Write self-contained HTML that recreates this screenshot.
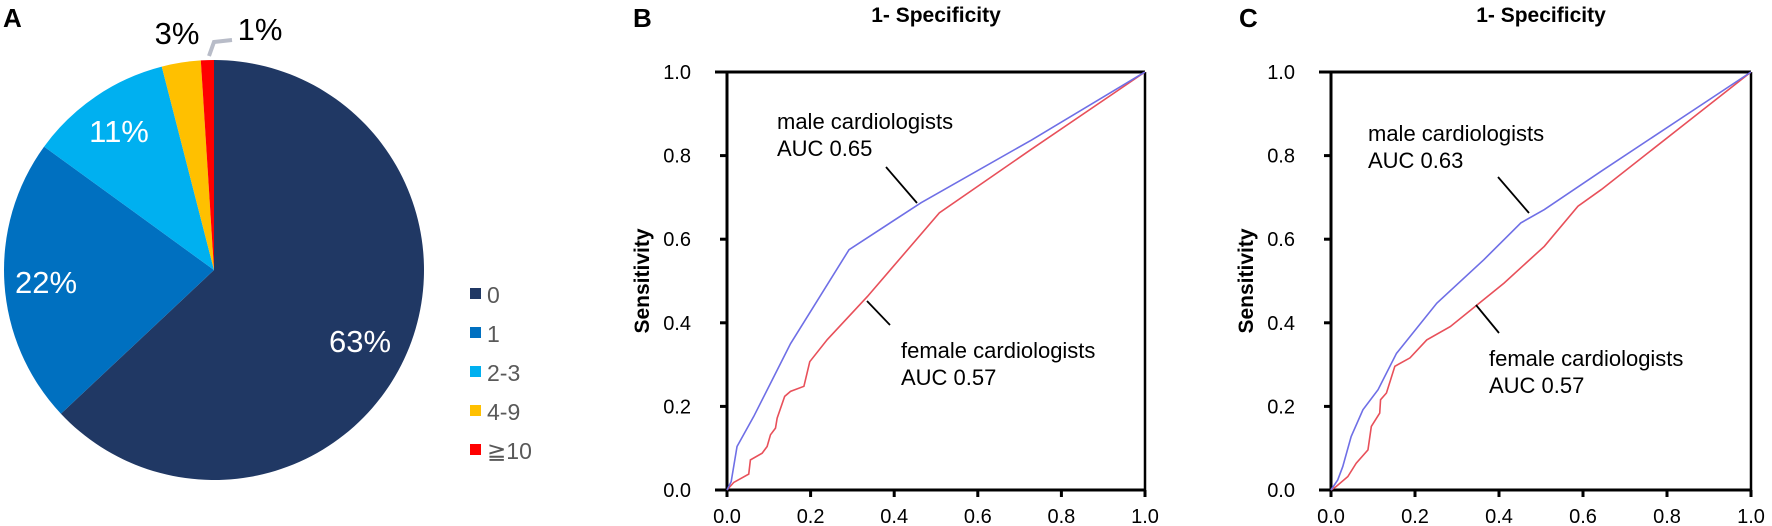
<!DOCTYPE html>
<html><head><meta charset="utf-8"><style>
html,body{margin:0;padding:0;background:#fff;}
svg{display:block;font-family:"Liberation Sans",Arial,sans-serif;}
</style></head><body>
<svg id="fig" width="1772" height="526" viewBox="0 0 1772 526"></svg>
<script>
// ---- Panel A data ----
const pieCats = ["0","1","2-3","4-9","≧10"];
const pieVals = [63,22,11,3,1];
const pieLabels = ["63%","22%","11%","3%","1%"];
const pieColors = ["#203864","#0070c0","#00b0f0","#ffc000","#ff0000"];
// ---- Panel B data ----
const bMaleX = [0,0.01,0.024,0.064,0.152,0.292,0.464,0.728,1];
const bMaleY = [0,0.02,0.104,0.176,0.35,0.575,0.687,0.837,1];
const bFemX = [0,0.016,0.052,0.056,0.084,0.096,0.104,0.116,0.12,0.138,0.152,0.184,0.198,0.24,0.336,0.508,0.728,1];
const bFemY = [0,0.018,0.038,0.072,0.088,0.104,0.132,0.148,0.172,0.224,0.236,0.248,0.307,0.36,0.463,0.663,0.815,1];
// ---- Panel C data ----
const cMaleX = [0,0.016,0.028,0.048,0.076,0.112,0.156,0.252,0.364,0.452,0.508,0.644,1];
const cMaleY = [0,0.024,0.056,0.128,0.192,0.24,0.327,0.447,0.551,0.639,0.671,0.763,1];
const cFemX = [0,0.012,0.04,0.06,0.088,0.096,0.116,0.118,0.132,0.152,0.188,0.228,0.284,0.348,0.412,0.508,0.588,0.644,1];
const cFemY = [0,0.008,0.032,0.064,0.096,0.152,0.184,0.216,0.232,0.296,0.316,0.359,0.391,0.443,0.495,0.583,0.679,0.719,1];
const ticks = [0,0.2,0.4,0.6,0.8,1.0];
const tickLabels = ["0.0","0.2","0.4","0.6","0.8","1.0"];

const NS="http://www.w3.org/2000/svg";
const svg=document.getElementById('fig');
function mk(tag,attrs,parent,text){const e=document.createElementNS(NS,tag);for(const k in attrs)e.setAttribute(k,attrs[k]);if(text!==undefined)e.textContent=text;(parent||svg).appendChild(e);return e;}

// Panel A
const gA=mk('g',{});


let t=mk('text',{x:3,y:27,'font-size':26,'font-weight':'bold'},gA,'A');


const cx=214,cy=270,r=210;
const total=pieVals.reduce((a,b)=>a+b,0);
let ang=0;
const labelPos=[[360,352],[46,293],[119,142],[177,44],[260,40]];
pieVals.forEach((v,i)=>{
  const a0=ang/total*2*Math.PI, a1=(ang+v)/total*2*Math.PI; ang+=v;
  const x0=cx+r*Math.sin(a0),y0=cy-r*Math.cos(a0),x1=cx+r*Math.sin(a1),y1=cy-r*Math.cos(a1);
  const p=mk('path',{d:`M${cx},${cy}L${x0},${y0}A${r},${r} 0 ${a1-a0>Math.PI?1:0} 1 ${x1},${y1}Z`,fill:pieColors[i]},gA);
  
  
  const lp=labelPos[i];
  const lt=mk('text',{x:lp[0],y:lp[1],'font-size':31,'text-anchor':'middle',fill:i<3?'#fff':'#000'},gA,pieLabels[i]);
  
  
});
let ll=mk('polyline',{points:'209,56 214,42 232,40',fill:'none',stroke:'#b8bcc8','stroke-width':4},gA);


pieCats.forEach((c,i)=>{
  const y=294+i*39;
  const s=mk('rect',{x:470,y:y-6,width:11,height:11,fill:pieColors[i]},gA);
  
  
  const tt=mk('text',{x:487,y:y+9,'font-size':23,fill:'#595959'},gA,c);
  
  
});

function roc(opts){
  const g=mk('g',{});
  
  
  const X0=opts.x0,X1=opts.x1,Y0=490,Y1=72;
  const sx=v=>X0+v*(X1-X0), sy=v=>Y0-v*(Y0-Y1);
  let e=mk('text',{x:opts.letterX,y:27,'font-size':26,'font-weight':'bold'},g,opts.letter);
  
  
  e=mk('text',{x:(X0+X1)/2,y:22,'font-size':21,'font-weight':'bold','text-anchor':'middle'},g,'1- Specificity');
  
  
  e=mk('text',{x:0,y:0,'font-size':21,'font-weight':'bold','text-anchor':'middle',transform:`translate(${X0-78},${(Y0+Y1)/2}) rotate(-90)`},g,'Sensitivity');
  
  
  e=mk('line',{x1:X0-12,y1:Y1,x2:X1,y2:Y1,stroke:'#000','stroke-width':3},g);
  
  
  e=mk('line',{x1:X1,y1:Y1,x2:X1,y2:Y0+7,stroke:'#000','stroke-width':2.5},g);
  
  
  e=mk('line',{x1:X0-12,y1:Y0,x2:X1,y2:Y0,stroke:'#000','stroke-width':3},g);
  
  
  e=mk('line',{x1:X0,y1:Y1,x2:X0,y2:Y0+7,stroke:'#000','stroke-width':3},g);
  
  
  ticks.forEach((v,i)=>{
    let k=mk('line',{x1:X0-7,y1:sy(v),x2:X0,y2:sy(v),stroke:'#000','stroke-width':3},g);
    
    
    k=mk('text',{x:X0-36,y:sy(v)+7,'font-size':20,'text-anchor':'end'},g,tickLabels[i]);
    
    
    k=mk('line',{x1:sx(v),y1:Y0,x2:sx(v),y2:Y0+7,stroke:'#000','stroke-width':3},g);
    
    
    k=mk('text',{x:sx(v),y:523,'font-size':20,'text-anchor':'middle'},g,tickLabels[i]);
    
    
  });
  const line=(xs,ys,col,nm)=>{
    const l=mk('polyline',{points:xs.map((x,i)=>sx(x)+','+sy(ys[i])).join(' '),fill:'none',stroke:col,'stroke-width':1.6},g);
    
    
  };
  line(opts.fx,opts.fy,'#e8505a','female-roc-curve');
  line(opts.mx,opts.my,'#6f6fe6','male-roc-curve');
  const A=opts.ann;
  e=mk('text',{x:A.mx,y:A.my,'font-size':22},g,'male cardiologists');
  
  
  e=mk('text',{x:A.mx,y:A.my+27,'font-size':22},g,'AUC '+opts.mauc);
  
  
  e=mk('line',{x1:A.ml[0],y1:A.ml[1],x2:A.ml[2],y2:A.ml[3],stroke:'#000','stroke-width':1.8},g);
  
  
  e=mk('text',{x:A.fx,y:A.fy,'font-size':22},g,'female cardiologists');
  
  
  e=mk('text',{x:A.fx,y:A.fy+27,'font-size':22},g,'AUC '+opts.fauc);
  
  
  e=mk('line',{x1:A.fl[0],y1:A.fl[1],x2:A.fl[2],y2:A.fl[3],stroke:'#000','stroke-width':1.8},g);
  
  
}
roc({name:'roc-panel-b',letter:'B',letterX:633,x0:727,x1:1145,mx:bMaleX,my:bMaleY,fx:bFemX,fy:bFemY,mauc:'0.65',fauc:'0.57',
  ann:{mx:777,my:129,ml:[886,167,917,203],fx:901,fy:358,fl:[867,301,890,325]}});
roc({name:'roc-panel-c',letter:'C',letterX:1239,x0:1331,x1:1751,mx:cMaleX,my:cMaleY,fx:cFemX,fy:cFemY,mauc:'0.63',fauc:'0.57',
  ann:{mx:1368,my:141,ml:[1498,177,1529,213],fx:1489,fy:366,fl:[1476,305,1499,333]}});
</script>
</body></html>
